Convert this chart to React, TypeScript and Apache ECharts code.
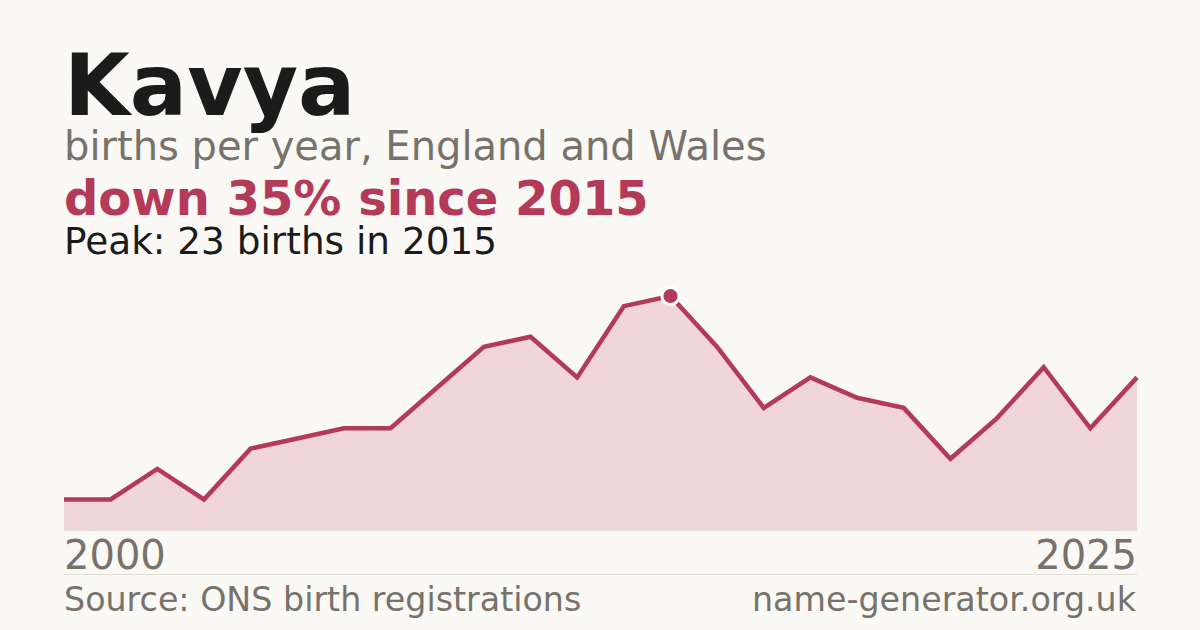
import React, { useEffect, useRef } from "react";
import * as echarts from "echarts";

const years = [
  "2000", "2001", "2002", "2004", "2005", "2006", "2007", "2008", "2010", "2011",
  "2012", "2013", "2014", "2015", "2016", "2017", "2018", "2019", "2020", "2021",
  "2022", "2023", "2024", "2025",
];
const births = [3, 3, 6, 3, 8, 9, 10, 10, 14, 18, 19, 15, 22, 23, 18, 12, 15, 13, 12, 7, 11, 16, 10, 15];
const peakYear = "2015";
const peakValue = 23;

const title = "Kavya";
const subtitle = "births per year, England and Wales";
const headline = "down 35% since 2015";
const peakText = "Peak: 23 births in 2015";
const sourceText = "Source: ONS birth registrations";
const siteText = "name-generator.org.uk";

const FONT = "DejaVu Sans";
const BG = "#faf9f5";
const CRIMSON = "#b33a58";
const GREY = "#77726b";
const DARK = "#1b1b1b";

export default function App() {
  const ref = useRef<HTMLDivElement>(null);
  useEffect(() => {
    if (!ref.current) return;
    const chart = echarts.init(ref.current, null, { renderer: "svg" });
    const last = years.length - 1;
    chart.setOption({
      animation: false,
      backgroundColor: BG,
      grid: { left: 64, right: 63, top: 296, bottom: 100, containLabel: false },
      xAxis: {
        type: "category",
        data: years,
        boundaryGap: false,
        axisLine: { show: true, lineStyle: { color: "#e2ded6", width: 1 } },
        axisTick: { show: false },
        splitLine: { show: false },
        axisLabel: {
          interval: 0,
          margin: 5,
          color: GREY,
          fontFamily: FONT,
          fontSize: 40,
          alignMinLabel: "left",
          alignMaxLabel: "right",
          formatter: (v: string, i: number) => (i === 0 || i === last ? v : ""),
        },
      },
      yAxis: {
        type: "value",
        min: 0,
        max: peakValue,
        show: false,
        splitLine: { show: false },
      },
      series: [
        {
          type: "line",
          data: births,
          showSymbol: false,
          symbol: "none",
          smooth: false,
          lineStyle: { color: CRIMSON, width: 4.5, join: "miter" },
          areaStyle: { color: "#f0d5db", opacity: 1 },
          z: 2,
          markPoint: {
            symbol: "circle",
            symbolSize: 17,
            itemStyle: { color: CRIMSON, borderColor: "#ffffff", borderWidth: 3 },
            label: { show: false },
            data: [{ coord: [peakYear, peakValue] }],
          },
        },
      ],
      graphic: [
        { type: "text", x: 64, y: 85, style: { text: title, font: `bold 85px '${FONT}'`, lineHeight: 74, fill: DARK, verticalAlign: "middle" } },
        { type: "text", x: 64, y: 146, style: { text: subtitle, font: `40px '${FONT}'`, lineHeight: 38, fill: GREY, verticalAlign: "middle" } },
        { type: "text", x: 64, y: 198, style: { text: headline, font: `bold 48px '${FONT}'`, lineHeight: 42, fill: CRIMSON, verticalAlign: "middle" } },
        { type: "text", x: 64, y: 241, style: { text: peakText, font: `37.4px '${FONT}'`, lineHeight: 34, fill: DARK, verticalAlign: "middle" } },
        { type: "line", shape: { x1: 64, y1: 574.5, x2: 1137, y2: 574.5 }, style: { stroke: "#e2ded6", lineWidth: 1 } },
        { type: "text", x: 64, y: 599, style: { text: sourceText, font: `33.3px '${FONT}'`, lineHeight: 32, fill: GREY, verticalAlign: "middle" } },
        { type: "text", x: 1136, y: 599, style: { text: siteText, font: `33.3px '${FONT}'`, lineHeight: 32, fill: GREY, verticalAlign: "middle", align: "right" } },
      ],
    });
    return () => chart.dispose();
  }, []);
  return (
    <div
      ref={ref}
      style={{ position: "fixed", left: 0, top: 0, width: 1200, height: 630, background: BG }}
    />
  );
}
